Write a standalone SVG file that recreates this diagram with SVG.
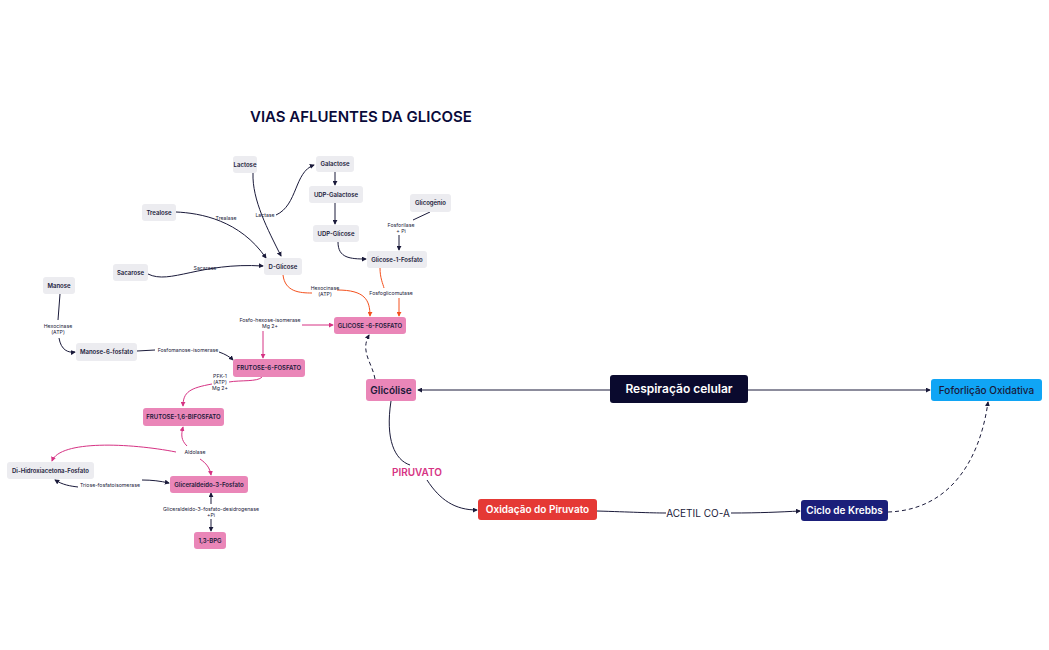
<svg xmlns="http://www.w3.org/2000/svg" width="1049" height="650" viewBox="0 0 1049 650">
<defs>
<style>
text{font-family:"Inter","Liberation Sans",sans-serif;fill:#1a1a3a}
.n{font-size:6px;font-weight:600;text-anchor:middle}
.l{font-size:5.2px;text-anchor:middle}
.g{fill:#ececf0}
.p{fill:#ea86b8}
.c{fill:none;stroke:#1a1a3a;stroke-width:1}
.o{fill:none;stroke:#f4511e;stroke-width:1}
.m{fill:none;stroke:#d63384;stroke-width:1}
.big{font-size:11px;font-weight:600;text-anchor:middle;fill:#fff}
</style>
<marker id="a" viewBox="0 0 6 6" refX="5" refY="3" markerWidth="5" markerHeight="5" orient="auto"><path d="M0,0L6,3L0,6z" fill="#1a1a3a"/></marker>
<marker id="ao" viewBox="0 0 6 6" refX="5" refY="3" markerWidth="5" markerHeight="5" orient="auto"><path d="M0,0L6,3L0,6z" fill="#f4511e"/></marker>
<marker id="am" viewBox="0 0 6 6" refX="5" refY="3" markerWidth="5" markerHeight="5" orient="auto"><path d="M0,0L6,3L0,6z" fill="#d63384"/></marker>
</defs>
<rect width="1049" height="650" fill="#fff"/>
<text x="250" y="122" style="font-size:15px;font-weight:600;fill:#0a0a3a">VIAS AFLUENTES DA GLICOSE</text>

<g id="connectors">
<path class="c" d="M253,173 C252,200 268,230 281,256" marker-end="url(#a)"/>
<path class="c" d="M276,215 C298,205 294,172 314,165" marker-end="url(#a)"/>
<path class="c" d="M176,212 C200,213 240,220 266,258" marker-end="url(#a)"/>
<path class="c" d="M148,274 C170,285 200,262 263,266" marker-end="url(#a)"/>
<path class="c" d="M335,172 V185" marker-end="url(#a)"/>
<path class="c" d="M335,203 V224" marker-end="url(#a)"/>
<path class="c" d="M338,242 C338,258 350,259 366,259" marker-end="url(#a)"/>
<path class="c" d="M430,212 L413,220 M399,235 V250" marker-end="url(#a)"/>
<path class="o" d="M283,275 C285,292 300,293 312,293 M337,290 C365,290 370,300 370,316" marker-end="url(#ao)"/>
<path class="o" d="M380,268 C380,278 383,284 384,288 M399,298 V316" marker-end="url(#ao)"/>
<path class="m" d="M302,325 L333,325" marker-end="url(#am)"/>
<path class="m" d="M263,331 V358" marker-end="url(#am)"/>
<path class="c" d="M60,294 L58,320 M59,338 C61,350 68,353 75,352" marker-end="url(#a)"/>
<path class="c" d="M137,351 L155,350 M219,352 C225,354 230,357 233,360" marker-end="url(#a)"/>
<path class="m" d="M262,377 C258,382 240,380 229,382 M212,384 C190,388 183,392 183,406" marker-end="url(#am)"/>
<path class="m" d="M187,446 C181,440 181,435 183,427" marker-end="url(#am)"/>
<path class="m" d="M176,452 C130,443 60,440 52,461" marker-end="url(#am)"/>
<path class="m" d="M200,459 C206,463 210,468 211,475" marker-end="url(#am)"/>
<path class="c" d="M78,487 C70,486 63,485 55,480" marker-end="url(#a)"/>
<path class="c" d="M142,480 C152,480 160,481 169,483" marker-end="url(#a)"/>
<path class="c" d="M211,504 V493" marker-end="url(#a)"/>
<path class="c" d="M211,519 V531" marker-end="url(#a)"/>
<path class="c" d="M610,390 H418" marker-end="url(#a)"/>
<path class="c" d="M748,390 H930" marker-end="url(#a)"/>
<path class="c" stroke-dasharray="4,3" d="M375,379 C372,362 360,352 369,335" marker-end="url(#a)"/>
<path class="c" d="M391,401 C385,440 395,460 410,465 M427,480 C440,500 455,510 477,510" marker-end="url(#a)"/>
<path class="c" d="M597,511 C630,512 650,513 666,513 M731,513 C760,513 780,512 800,511" marker-end="url(#a)"/>
<path class="c" stroke-dasharray="4,3" d="M888,512 C950,510 980,460 988,402" marker-end="url(#a)"/>
</g>

<g id="labels">
<text class="l" x="226" y="220">Trealase</text>
<text class="l" x="265" y="217">Lactase</text>
<text class="l" x="205" y="270">Sacarase</text>
<text class="l" x="325" y="290">Hexocinase</text><text class="l" x="325" y="296">(ATP)</text>
<text class="l" x="391" y="295">Fosfoglicomutase</text>
<text class="l" x="401" y="227">Fosforilase</text><text class="l" x="401" y="233">+ Pi</text>
<text class="l" x="270" y="322">Fosfo-hexose-isomerase</text><text class="l" x="270" y="328">Mg 2+</text>
<text class="l" x="58" y="328">Hexocinase</text><text class="l" x="58" y="334">(ATP)</text>
<text class="l" x="188" y="352">Fosfomanose-isomerase</text>
<text class="l" x="220" y="378">PFK-1</text><text class="l" x="220" y="384">(ATP)</text><text class="l" x="220" y="390">Mg 2+</text>
<text class="l" x="195" y="454">Aldolase</text>
<text class="l" x="110" y="487">Triose-fosfatoisomerase</text>
<text class="l" x="211" y="511">Gliceraldeido-3-fosfato-desidrogenase</text><text class="l" x="211" y="517">+Pi</text>
<text x="417" y="476" style="font-size:10px;font-weight:600;fill:#d63384;text-anchor:middle">PIRUVATO</text>
<text x="698" y="517" style="font-size:10px;text-anchor:middle">ACETIL CO-A</text>
</g>

<g id="lactose"><rect class="g" x="233" y="156" width="24" height="17" rx="3"/><text class="n" x="245" y="166.5">Lactose</text></g>
<g id="galactose"><rect class="g" x="316" y="156" width="38" height="16" rx="3"/><text class="n" x="335" y="166">Galactose</text></g>
<g id="udp-galactose"><rect class="g" x="309" y="186" width="54" height="17" rx="3"/><text class="n" x="336" y="196.5">UDP-Galactose</text></g>
<g id="udp-glicose"><rect class="g" x="313" y="225" width="46" height="17" rx="3"/><text class="n" x="336" y="235.5">UDP-Glicose</text></g>
<g id="glicogenio"><rect class="g" x="410" y="194" width="41" height="18" rx="3"/><text class="n" x="430.5" y="205">Glicogênio</text></g>
<g id="trealose"><rect class="g" x="142" y="204" width="34" height="17" rx="3"/><text class="n" x="159" y="214.5">Trealose</text></g>
<g id="d-glicose"><rect class="g" x="264" y="258" width="38" height="17" rx="3"/><text class="n" x="283" y="268.5">D-Glicose</text></g>
<g id="glicose-1-fosfato"><rect class="g" x="367" y="251" width="60" height="17" rx="3"/><text class="n" x="397" y="261.5">Glicose-1-Fosfato</text></g>
<g id="sacarose"><rect class="g" x="113" y="264" width="35" height="17" rx="3"/><text class="n" x="130.5" y="274.5">Sacarose</text></g>
<g id="g6p"><rect class="p" x="334" y="317" width="72" height="17" rx="3"/><text class="n" x="370" y="327.5">GLICOSE -6-FOSFATO</text></g>
<g id="manose"><rect class="g" x="43" y="277" width="32" height="17" rx="3"/><text class="n" x="59" y="287.5">Manose</text></g>
<g id="manose-6-fosfato"><rect class="g" x="76" y="343" width="61" height="18" rx="3"/><text class="n" x="106.5" y="354">Manose-6-fosfato</text></g>
<g id="f6p"><rect class="p" x="233" y="359" width="72" height="18" rx="3"/><text class="n" x="269" y="370">FRUTOSE-6-FOSFATO</text></g>
<g id="f16bp"><rect class="p" x="143" y="408" width="81" height="18" rx="3"/><text class="n" x="183.5" y="419">FRUTOSE-1,6-BIFOSFATO</text></g>
<g id="dhap"><rect class="g" x="7" y="462" width="87" height="17" rx="3"/><text class="n" x="50.5" y="472.5">Di-Hidroxiacetona-Fosfato</text></g>
<g id="g3p"><rect class="p" x="170" y="476" width="78" height="17" rx="3"/><text class="n" x="209" y="486.5">Gliceraldeido-3-Fosfato</text></g>
<g id="bpg"><rect class="p" x="194" y="532" width="32" height="17" rx="3"/><text class="n" x="210" y="542.5">1,3-BPG</text></g>

<g id="glicolise"><rect class="p" x="366" y="379" width="50" height="22" rx="3"/><text x="391" y="393.5" style="font-size:10px;font-weight:600;text-anchor:middle">Glicólise</text></g>
<g id="respiracao"><rect fill="#0a0a2e" x="610" y="375" width="138" height="28" rx="3"/><text class="big" x="679" y="393" style="font-size:12px">Respiração celular</text></g>
<g id="fosforilacao"><rect fill="#10a5f5" x="931" y="379" width="111" height="22" rx="3"/><text x="986.5" y="393.5" style="font-size:10px;font-weight:500;text-anchor:middle">Foforlição Oxidativa</text></g>
<g id="oxidacao"><rect fill="#e53935" x="478" y="499" width="119" height="21" rx="3"/><text class="big" x="537.5" y="513" style="font-size:10px">Oxidação do Piruvato</text></g>
<g id="krebbs"><rect fill="#1b1f7a" x="801" y="500" width="87" height="21" rx="3"/><text class="big" x="844.5" y="514" style="font-size:10px">Ciclo de Krebbs</text></g>
</svg>
